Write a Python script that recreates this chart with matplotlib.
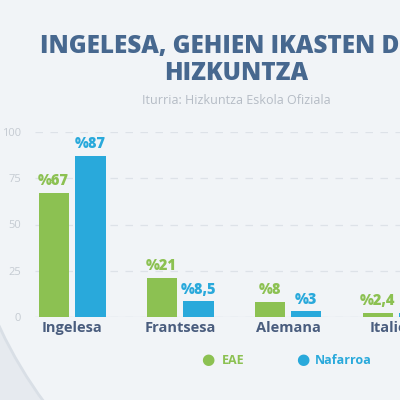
import matplotlib
matplotlib.use('Agg')
import matplotlib.pyplot as plt
from matplotlib.patches import Circle
import numpy as np

categories = ['Ingelesa', 'Frantsesa', 'Alemana', 'Italiera']
eae = [67, 21, 8, 2.4]
nafarroa = [87, 8.5, 3, 2]
eae_labels = ['%67', '%21', '%8', '%2,4']
naf_labels = ['%87', '%8,5', '%3', '%2']
yticks = [0, 25, 50, 75, 100]

green = '#8cc152'
blue = '#29a9db'
title_col = '#47688f'
label_col = '#4a5d7e'

plt.rcParams['font.family'] = ['Open Sans', 'DejaVu Sans']

fig = plt.figure(figsize=(4, 4), dpi=100)
fig.patch.set_facecolor('#e6eaef')

# soft light disc in the background
bg = fig.add_axes([0, 0, 1, 1], zorder=-1)
bg.set_xlim(0, 1)
bg.set_ylim(0, 1)
bg.axis('off')
bg.add_patch(Circle((1.0, 0.65), 1.105, facecolor='#f1f4f7', edgecolor='#d9dfe6', lw=2))

ax = fig.add_axes([35 / 400, 83 / 400, 365 / 400, 185 / 400])
ax.set_facecolor('none')
x = np.arange(len(categories))
w = 0.28
off = 0.17
ax.bar(x - off, eae, w, color=green, zorder=3)
ax.bar(x + off, nafarroa, w, color=blue, zorder=3)

for xi, v, t in zip(x, eae, eae_labels):
    ax.text(xi - off, v + 2, t, ha='center', va='bottom', color=green,
            fontsize=10.5, fontweight='heavy')
for xi, v, t in zip(x, nafarroa, naf_labels):
    ax.text(xi + off, v + 2, t, ha='center', va='bottom', color=blue,
            fontsize=10.5, fontweight='heavy')

ax.set_xlim(-0.343, 3.037)
ax.set_ylim(0, 100)
ax.set_yticks(yticks)
ax.set_xticks(x)
ax.set_xticklabels(categories, fontsize=10.5, fontweight='bold', color=label_col)
ax.tick_params(axis='y', colors='#c5cbd2', labelsize=8, length=0, pad=10)
ax.tick_params(axis='x', length=0, pad=3)
ax.grid(axis='y', color='#dde2e8', ls=(0, (6, 6)), lw=0.9, zorder=0)
for s in ax.spines.values():
    s.set_visible(False)
ax.axhline(0, color='#dde2e8', lw=0.9, zorder=1)

fig.text(0.59, 0.85, 'INGELESA, GEHIEN IKASTEN DEN\nHIZKUNTZA', ha='center', va='center',
         fontsize=17.5, fontweight='heavy', color=title_col, linespacing=1.15)
fig.text(0.59, 0.75, 'Iturria: Hizkuntza Eskola Ofiziala', ha='center', va='center',
         fontsize=9, color='#b5bcc5')

# legend
fig.text(0.52, 0.098, '\u25CF', color=green, fontsize=11, ha='center', va='center')
fig.text(0.555, 0.098, 'EAE', color=green, fontsize=9, fontweight='bold', va='center')
fig.text(0.757, 0.098, '\u25CF', color=blue, fontsize=11, ha='center', va='center')
fig.text(0.787, 0.098, 'Nafarroa', color=blue, fontsize=9, fontweight='bold', va='center')

fig.savefig('out.png', dpi=100, facecolor=fig.get_facecolor())
